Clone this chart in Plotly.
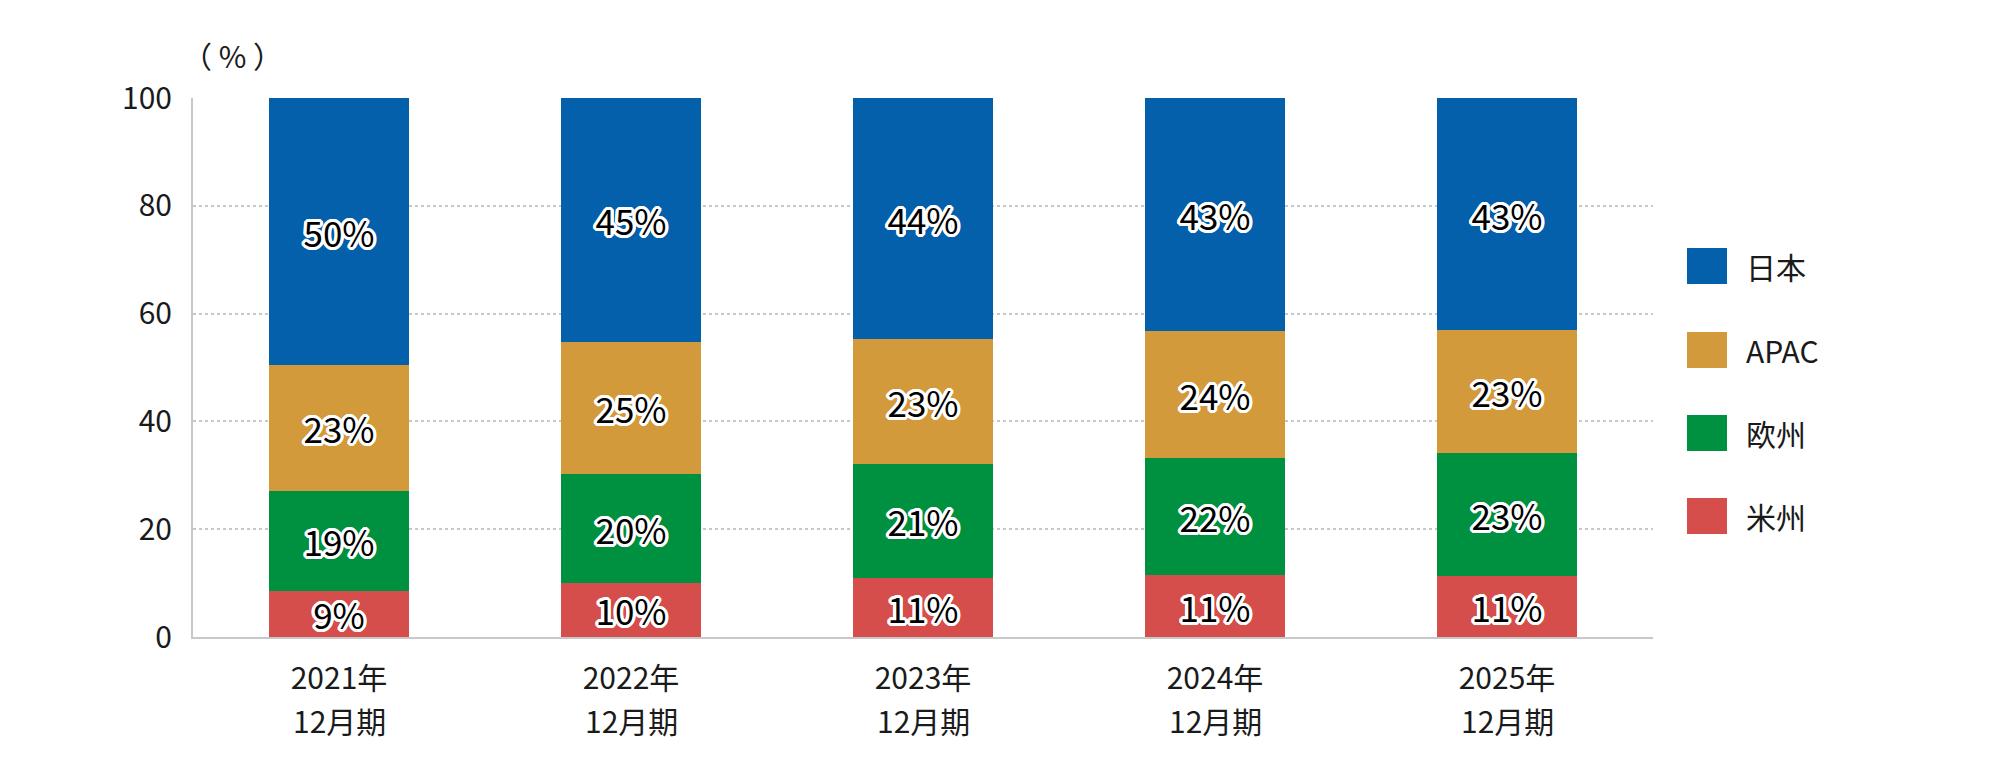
import plotly.graph_objects as go

# データ（構成比 %）
years = ["2021年", "2022年", "2023年", "2024年", "2025年"]
period_suffix = "12月期"
americas = [8.6, 10.1, 11.0, 11.5, 11.4]
europe = [18.5, 20.1, 21.1, 21.7, 22.8]
apac = [23.4, 24.6, 23.2, 23.6, 22.7]
japan = [49.5, 45.2, 44.7, 43.2, 43.1]

americas_labels = ["9%", "10%", "11%", "11%", "11%"]
europe_labels = ["19%", "20%", "21%", "22%", "23%"]
apac_labels = ["23%", "25%", "23%", "24%", "23%"]
japan_labels = ["50%", "45%", "44%", "43%", "43%"]

y_ticks = [0, 20, 40, 60, 80, 100]

FONT = "Noto Sans CJK JP"
TEXT_COLOR = "#1a1a1a"
COLORS = {
    "日本": "#0560AB",
    "APAC": "#D39A3C",
    "欧州": "#009140",
    "米州": "#D64E4C",
}

# 白フチ文字
OUTLINE = ", ".join(
    f"{dx}px {dy}px 0 #fff"
    for dx in (-3, -2, -1, 0, 1, 2, 3)
    for dy in (-3, -2, -1, 0, 1, 2, 3)
    if (dx, dy) != (0, 0) and dx * dx + dy * dy <= 10
)

# ページ余白(8px)を差し引いた寸法
OFF = 8
W, H = 2000 - 2 * OFF, 774 - 2 * OFF
PLOT_L, PLOT_R, PLOT_T, PLOT_B = 193 - OFF, 1653 - OFF, 98 - OFF, 637 - OFF


def px_x(x):
    return (x - OFF - PLOT_L) / (PLOT_R - PLOT_L)


def px_y(y):
    return (PLOT_B - (y - OFF)) / (PLOT_B - PLOT_T)


fig = go.Figure()

series = [
    ("米州", americas, americas_labels),
    ("欧州", europe, europe_labels),
    ("APAC", apac, apac_labels),
    ("日本", japan, japan_labels),
]
for name, values, labels in series:
    fig.add_trace(go.Bar(
        name=name,
        x=years,
        y=values,
        text=labels,
        textposition="inside",
        insidetextanchor="middle",
        textangle=0,
        constraintext="none",
        textfont=dict(family=FONT, size=35, color="#000000", shadow=OUTLINE),
        marker=dict(color=COLORS[name], line=dict(width=0)),
        hoverinfo="skip",
    ))

fig.update_layout(
    width=W,
    height=H,
    barmode="stack",
    bargap=0.52,
    showlegend=False,
    paper_bgcolor="white",
    plot_bgcolor="white",
    margin=dict(l=PLOT_L, r=W - PLOT_R, t=PLOT_T, b=H - PLOT_B, pad=0),
    font=dict(family=FONT, size=30, color=TEXT_COLOR),
    xaxis=dict(
        showline=True,
        linecolor="#c8c8c8",
        linewidth=2,
        showgrid=False,
        ticks="",
        ticklabelstandoff=14,
        tickfont=dict(family=FONT, size=30, color=TEXT_COLOR),
    ),
    yaxis=dict(
        range=[0, 100],
        tickvals=y_ticks,
        showline=True,
        linecolor="#c8c8c8",
        linewidth=2,
        showgrid=True,
        gridcolor="#c8c8c8",
        gridwidth=2,
        griddash="dot",
        zeroline=False,
        ticks="",
        ticklabelstandoff=13,
        tickfont=dict(family=FONT, size=30, color=TEXT_COLOR),
    ),
)

# 2行目（12月期）
for yr in years:
    fig.add_annotation(
        text=period_suffix, xref="x", yref="paper", x=yr, y=px_y(720),
        xanchor="center", yanchor="middle", showarrow=False,
        font=dict(family=FONT, size=30, color=TEXT_COLOR),
    )

# 単位
fig.add_annotation(
    text="（ % ）", xref="paper", yref="paper", x=px_x(180), y=px_y(55),
    xanchor="left", yanchor="middle", showarrow=False,
    font=dict(family=FONT, size=30, color=TEXT_COLOR),
)

# 凡例（大きめの四角）
legend_rows = [("日本", 266), ("APAC", 350), ("欧州", 433), ("米州", 516)]
for name, cy in legend_rows:
    fig.add_shape(
        type="rect", xref="paper", yref="paper",
        x0=px_x(1687), x1=px_x(1727), y0=px_y(cy + 18), y1=px_y(cy - 18),
        fillcolor=COLORS[name], line=dict(width=0),
    )
    fig.add_annotation(
        text=name, xref="paper", yref="paper", x=px_x(1744), y=px_y(cy),
        xanchor="left", yanchor="middle", showarrow=False,
        font=dict(family=FONT, size=30, color=TEXT_COLOR),
    )

fig.write_html("out.html")
